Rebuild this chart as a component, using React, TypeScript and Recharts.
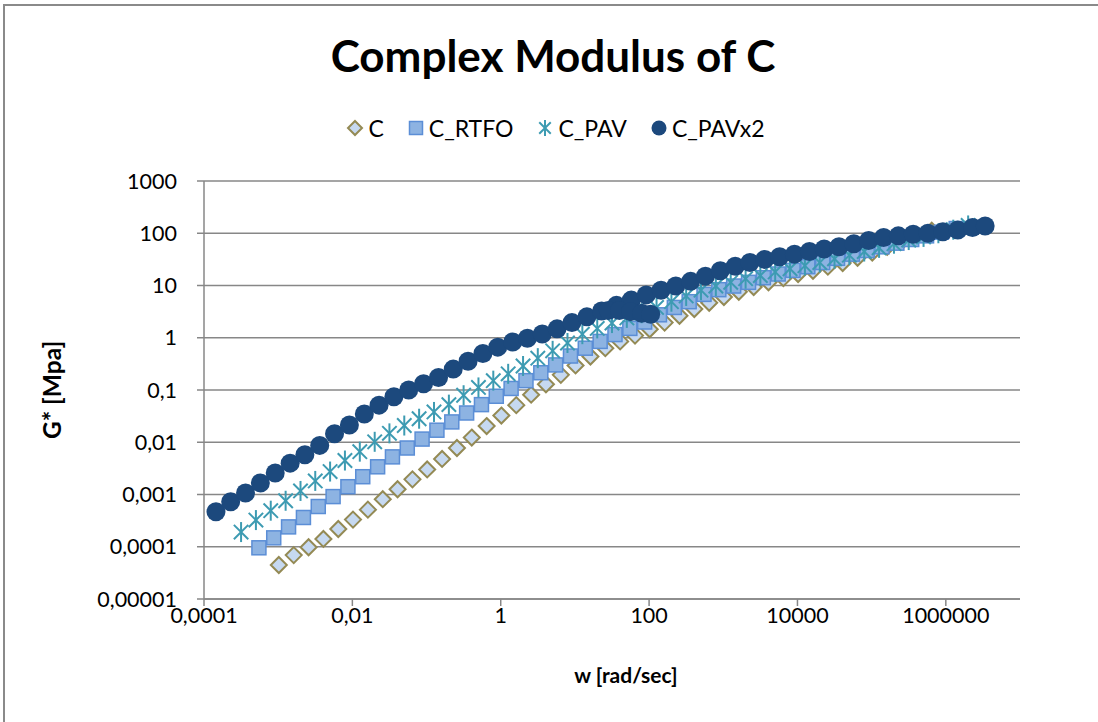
import React from 'react';
import { ScatterChart, Scatter, XAxis, YAxis, CartesianGrid, Legend } from 'recharts';

const FONT = 'Lato, "Open Sans", "DejaVu Sans", sans-serif';

// ---- Data ----
// C
const cW = [1.02e-3, 1.62e-3, 2.57e-3, 4.07e-3, 6.46e-3, 1.02e-2, 1.62e-2, 2.57e-2, 4.07e-2, 6.46e-2, 0.102, 0.162, 0.257, 0.407, 0.646, 1.02, 1.62, 2.57, 4.07, 6.46, 10.2, 16.2, 25.7, 40.7, 64.6, 102, 162, 257, 407, 646, 1020, 1620, 2570, 4070, 6460, 10200, 16200, 25700, 40700, 64600, 102000, 162000, 257000, 407000, 646000];
const cG = [4.47e-5, 6.92e-5, 9.77e-5, 1.41e-4, 2.19e-4, 3.31e-4, 5.13e-4, 8.13e-4, 1.26e-3, 1.95e-3, 3.02e-3, 4.79e-3, 7.76e-3, 1.23e-2, 2.04e-2, 3.24e-2, 5.13e-2, 8.13e-2, 0.129, 0.195, 0.295, 0.437, 0.631, 0.851, 1.10, 1.45, 1.95, 2.63, 3.55, 4.68, 6.03, 7.59, 9.33, 11.5, 13.8, 16.6, 19.1, 22.9, 26.9, 33.9, 42.7, 55.0, 70.8, 89.1, 112];

// C_RTFO
const rtfoW = [5.50e-4, 8.71e-4, 1.38e-3, 2.19e-3, 3.47e-3, 5.50e-3, 8.71e-3, 1.38e-2, 2.19e-2, 3.47e-2, 5.50e-2, 8.71e-2, 0.138, 0.219, 0.347, 0.550, 0.871, 1.38, 2.19, 3.47, 5.50, 8.71, 13.8, 21.9, 34.7, 55.0, 87.1, 138, 219, 347, 550, 871, 1380, 2190, 3470, 5500, 8710, 13800, 21900, 34700, 55000, 87100, 138000, 219000, 347000, 550000, 871000, 1380000];
const rtfoG = [9.55e-5, 1.48e-4, 2.40e-4, 3.63e-4, 5.89e-4, 9.12e-4, 1.41e-3, 2.19e-3, 3.39e-3, 5.25e-3, 7.76e-3, 1.15e-2, 1.70e-2, 2.45e-2, 3.63e-2, 5.25e-2, 7.59e-2, 0.107, 0.151, 0.214, 0.302, 0.447, 0.631, 0.851, 1.15, 1.51, 2.0, 2.75, 3.80, 4.90, 6.76, 8.32, 9.77, 11.5, 14.1, 16.6, 19.5, 22.9, 27.5, 33.1, 39.8, 46.8, 55.0, 64.6, 75.9, 89.1, 105, 123];

// C_PAV
const pavW = [3.16e-4, 5.01e-4, 7.94e-4, 1.26e-3, 2.0e-3, 3.16e-3, 5.01e-3, 7.94e-3, 1.26e-2, 2.0e-2, 3.16e-2, 5.01e-2, 7.94e-2, 0.126, 0.2, 0.316, 0.501, 0.794, 1.26, 2.0, 3.16, 5.01, 7.94, 12.6, 20, 31.6, 50.1, 79.4, 126, 200, 316, 501, 794, 1260, 2000, 3160, 5010, 7940, 12600, 20000, 31600, 50100, 79400, 126000, 200000, 316000, 501000, 794000, 1260000, 2000000];
const pavG = [1.91e-4, 3.24e-4, 4.90e-4, 7.59e-4, 1.17e-3, 1.82e-3, 2.75e-3, 4.47e-3, 6.61e-3, 1.02e-2, 1.48e-2, 2.09e-2, 2.82e-2, 3.80e-2, 5.25e-2, 7.94e-2, 0.112, 0.151, 0.204, 0.288, 0.407, 0.562, 0.794, 1.17, 1.51, 1.91, 2.40, 2.95, 3.80, 4.90, 6.31, 8.13, 9.77, 11.5, 13.5, 15.5, 18.2, 20.9, 24.0, 27.5, 32.4, 38.0, 44.7, 52.5, 63.1, 74.1, 85.1, 100, 117, 141];

// C_PAVx2
const pavx2W = [1.45e-4, 2.29e-4, 3.63e-4, 5.75e-4, 9.12e-4, 1.45e-3, 2.29e-3, 3.63e-3, 5.75e-3, 9.12e-3, 1.45e-2, 2.29e-2, 3.63e-2, 5.75e-2, 9.12e-2, 0.145, 0.229, 0.363, 0.575, 0.912, 1.45, 2.29, 3.63, 5.75, 9.12, 14.5, 22.9, 36.3, 57.5, 91.2, 145, 229, 363, 575, 912, 1450, 2290, 3630, 5750, 9120, 14500, 22900, 36300, 57500, 91200, 145000, 229000, 363000, 575000, 912000, 1450000, 2290000, 3390000, 28.2, 39.8, 56.2, 79.4, 105];
const pavx2G = [4.68e-4, 7.24e-4, 1.07e-3, 1.66e-3, 2.57e-3, 3.98e-3, 5.75e-3, 8.71e-3, 1.45e-2, 2.14e-2, 3.47e-2, 5.13e-2, 7.41e-2, 0.1, 0.132, 0.174, 0.251, 0.355, 0.501, 0.661, 0.832, 0.977, 1.175, 1.479, 1.95, 2.51, 3.24, 4.17, 5.25, 6.61, 8.13, 9.77, 12.0, 15.1, 19.1, 23.4, 27.5, 31.6, 35.5, 39.8, 44.7, 50.1, 55.0, 63.1, 72.4, 83.2, 89.1, 95.5, 100, 107, 115, 129, 138, 3.31, 3.31, 3.16, 2.95, 2.82];

const xTicks = [1e-4, 1e-2, 1, 100, 1e4, 1e6];
const xTickLabels = ['0,0001', '0,01', '1', '100', '10000', '1000000'];
const yTicks = [1e-5, 1e-4, 1e-3, 1e-2, 1e-1, 1, 10, 100, 1000];
const yTickLabels = ['0,00001', '0,0001', '0,001', '0,01', '0,1', '1', '10', '100', '1000'];

const seriesNames = ['C', 'C_RTFO', 'C_PAV', 'C_PAVx2'];

const toPoints = (w: number[], g: number[]) => w.map((x, i) => ({ w: x, g: g[i] }));

const GRID = '#878787';

const Diamond = (p: any) => {
  const { cx, cy } = p;
  if (cx == null || cy == null) return null;
  const r = p.mk ?? 8;
  return (
    <polygon
      points={`${cx},${cy - r} ${cx + r},${cy} ${cx},${cy + r} ${cx - r},${cy}`}
      fill="#c6d9f1"
      stroke="#948a54"
      strokeWidth={2}
    />
  );
};

const Square = (p: any) => {
  const { cx, cy } = p;
  if (cx == null || cy == null) return null;
  const h = p.mk ?? 7;
  return <rect x={cx - h} y={cy - h} width={2 * h} height={2 * h} fill="#8db3e2" stroke="#5b8ed6" strokeWidth={1.5} />;
};

const Star = (p: any) => {
  const { cx, cy } = p;
  if (cx == null || cy == null) return null;
  const r = p.mk ?? 10;
  const d = r * 0.72;
  return (
    <g stroke="#3d9bb2" strokeWidth={2}>
      <line x1={cx} y1={cy - r} x2={cx} y2={cy + r} />
      <line x1={cx - d} y1={cy - d} x2={cx + d} y2={cy + d} />
      <line x1={cx - d} y1={cy + d} x2={cx + d} y2={cy - d} />
    </g>
  );
};

const Dot = (p: any) => {
  const { cx, cy } = p;
  if (cx == null || cy == null) return null;
  return <circle cx={cx} cy={cy} r={p.mk ?? 9.5} fill="#1c497d" />;
};

const legendIcon = (name: string) => {
  const c = 8;
  if (name === 'C') return <Diamond cx={c} cy={c} mk={7} />;
  if (name === 'C_RTFO') return <Square cx={c} cy={c} mk={6.5} />;
  if (name === 'C_PAV') return <Star cx={c} cy={c} mk={8} />;
  return <Dot cx={c} cy={c} mk={7.5} />;
};

const renderLegend = () => (
  <div
    style={{
      display: 'flex',
      justifyContent: 'center',
      alignItems: 'center',
      height: 30,
      paddingLeft: 14,
      fontFamily: FONT,
      fontSize: 23,
      color: '#000',
    }}
  >
    {seriesNames.map((n, i) => (
      <div key={n} style={{ display: 'flex', alignItems: 'center', marginRight: i < 3 ? 24 : 0 }}>
        <svg width={16} height={16} style={{ overflow: 'visible' }}>
          {legendIcon(n)}
        </svg>
        <span style={{ marginLeft: 5 }}>{n}</span>
      </div>
    ))}
  </div>
);

const fmtX = (v: number) => {
  const i = xTicks.findIndex((t) => Math.abs(t - v) / t < 1e-6);
  return i >= 0 ? xTickLabels[i] : '';
};
const fmtY = (v: number) => {
  const i = yTicks.findIndex((t) => Math.abs(t - v) / t < 1e-6);
  return i >= 0 ? yTickLabels[i] : '';
};

export default function App() {
  const tickStyle = { fontFamily: FONT, fontSize: 21.5, fill: '#000' };
  return (
    <div style={{ position: 'absolute', left: 0, top: 0, width: 1098, height: 722, background: '#fff', overflow: 'hidden' }}>
      <div style={{ position: 'absolute', left: 3, top: 4, width: 1200, height: 800, border: '2px solid #8a8a8a' }} />
      <div
        style={{
          position: 'absolute',
          top: 29,
          left: 0,
          width: 1106,
          textAlign: 'center',
          fontFamily: FONT,
          fontSize: 44,
          fontWeight: 700,
          color: '#000',
          lineHeight: '52px',
        }}
      >
        Complex Modulus of C
      </div>
      <div style={{ position: 'absolute', left: 0, top: 0 }}>
        <ScatterChart width={1098} height={722} margin={{ top: 151, right: 78, bottom: 63, left: 0 }}>
          <CartesianGrid vertical={false} stroke={GRID} strokeWidth={1.5} />
          <XAxis
            dataKey="w"
            type="number"
            scale="log"
            domain={[1e-4, 1e7]}
            allowDataOverflow
            ticks={xTicks}
            tickFormatter={fmtX}
            height={60}
            stroke={GRID}
            strokeWidth={1.5}
            tickSize={7}
            tickMargin={2}
            tick={tickStyle}
            interval={0}
            label={{
              value: 'w [rad/sec]',
              position: 'center',
              dy: 47,
              dx: 14,
              style: { fontFamily: FONT, fontSize: 21, fontWeight: 700, fill: '#000' },
            }}
          />
          <YAxis
            dataKey="g"
            type="number"
            scale="log"
            domain={[1e-5, 1000]}
            allowDataOverflow
            ticks={yTicks}
            tickFormatter={fmtY}
            width={204}
            stroke={GRID}
            strokeWidth={1.5}
            tickSize={7}
            tickMargin={20}
            tick={tickStyle}
            interval={0}
            label={{
              value: 'G* [Mpa]',
              angle: -90,
              position: 'center',
              dx: -50,
              style: { fontFamily: FONT, fontSize: 24.5, fontWeight: 700, fill: '#000' },
            }}
          />
          <Legend
            verticalAlign="top"
            content={renderLegend}
            wrapperStyle={{ top: 113, left: 0, width: 1098, height: 30 }}
          />
          <Scatter name="C" data={toPoints(cW, cG)} shape={Diamond} isAnimationActive={false} />
          <Scatter name="C_RTFO" data={toPoints(rtfoW, rtfoG)} shape={Square} isAnimationActive={false} />
          <Scatter name="C_PAV" data={toPoints(pavW, pavG)} shape={Star} isAnimationActive={false} />
          <Scatter name="C_PAVx2" data={toPoints(pavx2W, pavx2G)} shape={Dot} isAnimationActive={false} />
        </ScatterChart>
      </div>
    </div>
  );
}
